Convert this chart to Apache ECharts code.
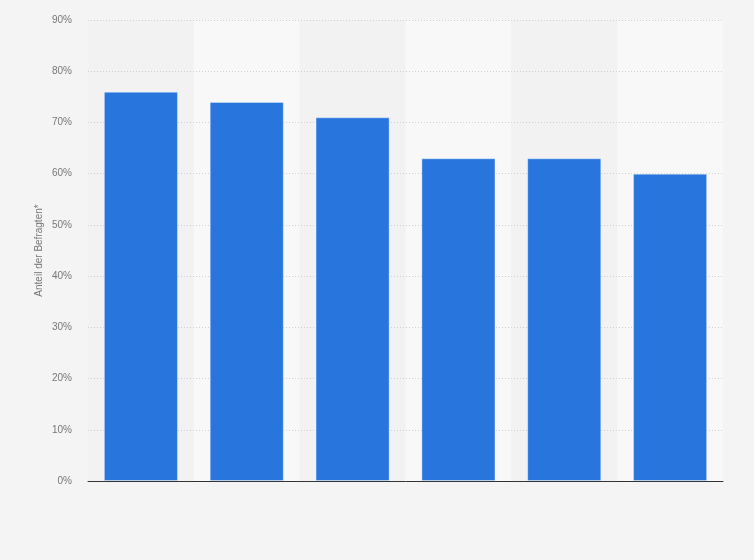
<!DOCTYPE html>
<html>
<head>
	<meta charset="utf-8">
	<title>Anteil der Befragten</title>
	<script src="https://cdn.jsdelivr.net/npm/echarts@6/dist/echarts.min.js"></script>
	<style>
		html, body { margin: 0; padding: 0; background: #f4f4f4; }
		#chart { width: 754px; height: 560px; }
	</style>
</head>
<body>
<div id="chart"></div>
<script>
	// Daten (Kategorienamen sind im Bild nicht beschriftet)
	var categories = ['1', '2', '3', '4', '5', '6'];
	var shares = [76, 74, 71, 63, 63, 60];
	var yTicks = [0, 10, 20, 30, 40, 50, 60, 70, 80, 90];

	var myChart = echarts.init(document.getElementById('chart'));
	var option = {
		backgroundColor: '#f4f4f4',
		animation: false,
		grid: { left: 88, right: 31, top: 20, bottom: 79 },
		xAxis: {
			type: 'category',
			data: categories,
			z: 0,
			axisLine: { lineStyle: { color: '#333', width: 1 } },
			axisTick: { show: false },
			axisLabel: { show: false },
			splitArea: { show: true, areaStyle: { color: ['#f2f2f2', '#f8f8f8'] } }
		},
		yAxis: {
			type: 'value',
			z: 1,
			min: yTicks[0],
			max: yTicks[yTicks.length - 1],
			interval: 10,
			name: 'Anteil der Befragten*',
			nameLocation: 'middle',
			nameGap: 44,
			nameMoveOverlap: false,
			nameTextStyle: { color: '#777', fontSize: 10, fontFamily: 'Liberation Sans' },
			axisLine: { show: false },
			axisTick: { show: false },
			axisLabel: {
				color: '#777', fontSize: 10, fontFamily: 'Liberation Sans', margin: 16,
				formatter: '{value}%'
			},
			splitLine: { showMinLine: false, lineStyle: { color: '#d0d0d0', type: [1, 2], width: 1 } }
		},
		series: [{
			type: 'bar',
			z: 2,
			data: shares,
			barWidth: '70%',
			itemStyle: { color: '#2876dd', borderColor: 'rgba(255,255,255,0.35)', borderWidth: 1 }
		}]
	};
	option && myChart.setOption(option);
</script>
</body>
</html>
